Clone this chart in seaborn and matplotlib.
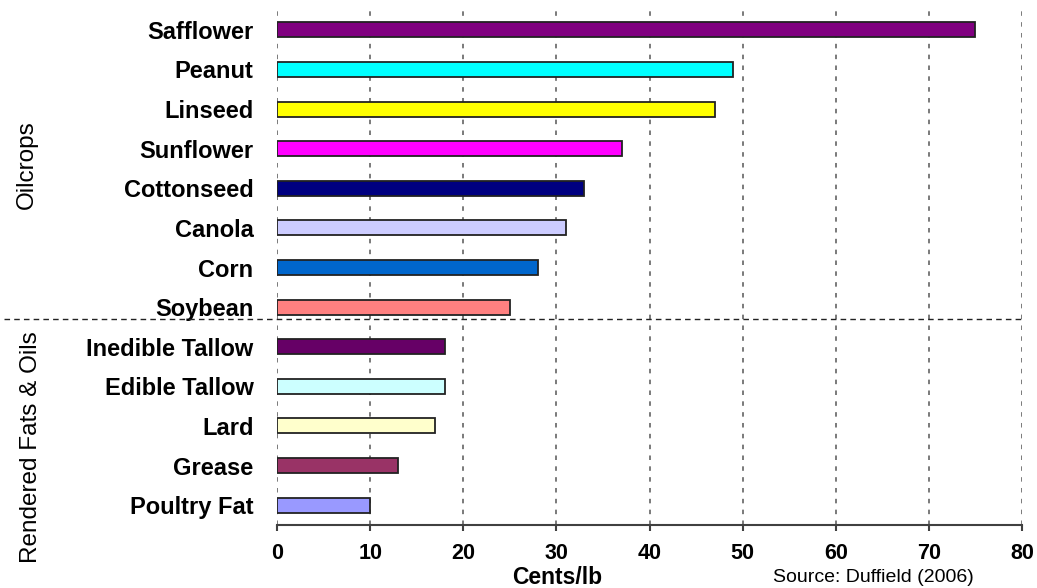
import matplotlib
matplotlib.use("Agg")
import matplotlib.pyplot as plt
import seaborn as sns

# data
categories = ["Safflower", "Peanut", "Linseed", "Sunflower", "Cottonseed",
              "Canola", "Corn", "Soybean", "Inedible Tallow", "Edible Tallow",
              "Lard", "Grease", "Poultry Fat"]
cents_per_lb = [75, 49, 47, 37, 33, 31, 28, 25, 18, 18, 17, 13, 10]
bar_colors = ["#800080", "#00FFFF", "#FFFF00", "#FF00FF", "#000080",
              "#CCCCFF", "#0066CC", "#FF8080", "#660066", "#CCFFFF",
              "#FFFFCC", "#993366", "#9999FF"]
x_ticks = [0, 10, 20, 30, 40, 50, 60, 70, 80]

sns.set_theme(style="white")
plt.rcParams["font.family"] = ["Liberation Sans", "DejaVu Sans"]
plt.rcParams["text.color"] = "black"

fig = plt.figure(figsize=(10.37, 5.88), dpi=100)
ax = fig.add_axes([277 / 1037, 1 - 525 / 588, 745 / 1037, 515 / 588])

sns.barplot(x=cents_per_lb, y=categories, hue=categories, palette=bar_colors,
            orient="h", width=0.38, saturation=1, edgecolor="#222222",
            linewidth=1.3, legend=False, ax=ax)

ax.set_xlim(0, 80)
ax.set_ylim(12.5, -0.5)
ax.set_xticks(x_ticks)
ax.set_xlabel("")
ax.set_ylabel("")

# vertical dotted grid
for xv in x_ticks:
    ax.axvline(xv, color="#707070", linestyle=(0, (2.5, 3.5)), linewidth=1.3,
               zorder=0)

for side in ["top", "right", "left"]:
    ax.spines[side].set_visible(False)
ax.spines["bottom"].set_color("#404040")
ax.spines["bottom"].set_linewidth(1.5)

ax.tick_params(axis="x", bottom=True, direction="out", length=4, width=1.5,
               color="#404040", pad=9, labelsize=15.5)
ax.tick_params(axis="y", length=0, pad=17, labelsize=17)
for lab in ax.get_xticklabels() + ax.get_yticklabels():
    lab.set_fontweight("bold")
    lab.set_color("black")

# separator between the two groups
ax.axhline(7.3, xmin=-0.366, xmax=1.0, color="#222222", linestyle=(0, (4, 3)),
           linewidth=1.0, clip_on=False)

# group labels
fig.text(27 / 1037, 1 - 165 / 588, "Oilcrops", rotation=90, fontsize=17.5,
         ha="center", va="center", color="black")
fig.text(31 / 1037, 1 - 447 / 588, "Rendered Fats & Oils", rotation=90,
         fontsize=17.5, ha="center", va="center", color="black")

fig.text(557 / 1037, 1 - 577 / 588, "Cents/lb", fontsize=16.5, fontweight="bold",
         ha="center", va="center", color="black")
fig.text(773 / 1037, 1 - 578 / 588, "Source: Duffield (2006)", fontsize=14,
         ha="left", va="center", color="black")

plt.savefig("out.png", dpi=100)
plt.close()
